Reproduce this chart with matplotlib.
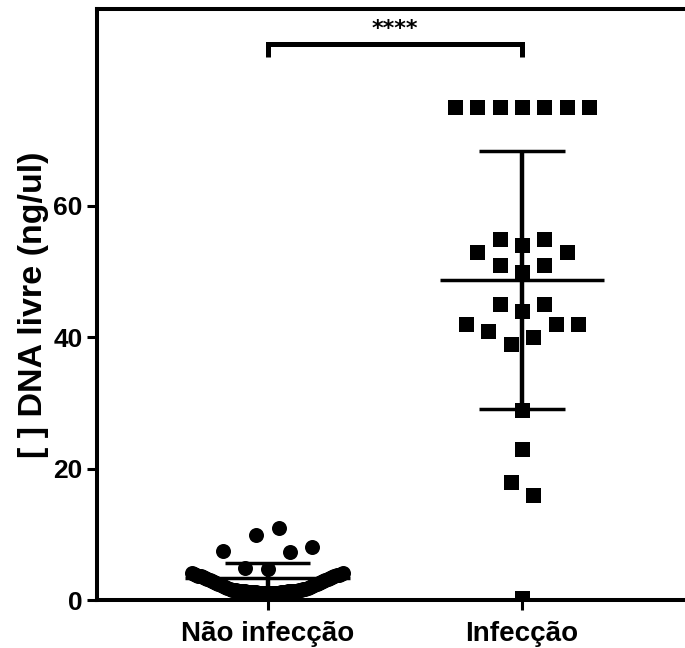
import numpy as np
import matplotlib
matplotlib.use("Agg")
import matplotlib.pyplot as plt

# ---------------- data ----------------
categories = ["Não infecção", "Infecção"]

# Não infecção group (data order)
nao_infeccao = [
    4.7, 4.9, 7.3, 7.5, 8.0,
    9.9, 11.0,
    1.05,
    1.0, 1.05, 1.05, 1.0, 1.1, 1.05, 1.1, 1.1, 1.15, 1.1,
    1.15, 1.2, 1.2, 1.2, 1.25, 1.2, 1.25, 1.3, 1.3, 1.3,
    1.35, 1.3, 1.35, 1.4, 1.4, 1.4, 1.45, 1.45, 1.5, 1.5,
    1.55, 1.6, 1.65, 1.7, 1.8, 1.85, 1.95, 2.0, 2.1, 2.15,
    2.25, 2.3, 2.4, 2.45, 2.55, 2.6, 2.7, 2.75, 2.85, 2.9,
    3.0, 3.05, 3.15, 3.2, 3.3, 3.3, 3.45, 3.45, 3.6, 3.6,
    3.7, 3.75, 3.85, 3.85, 3.95, 3.95, 4.1, 4.05,
]

# Infecção group (data order)
infeccao = [
    75, 75, 75, 75, 75, 75, 75,
    54, 55, 55, 53, 53,
    50, 51, 51,
    44, 45, 45,
    39, 40, 41, 42, 42, 42,
    29, 23, 18, 16, 0.3,
]

group_mean = [3.4, 48.7]
group_sd = [2.2, 19.6]

limit_line = 71.6
yticks = [0, 20, 40, 60]
ylabel = "[ ] DNA livre (ng/ul)"
signif = "****"

# ---------------- layout helpers ----------------
def scatter_offsets(values, origin, binw=4.5, step=0.0884, maxspan=0.596):
    v = np.asarray(values, float)
    bins = np.floor((v - origin) / binw).astype(int)
    off = np.zeros(len(v))
    for b in np.unique(bins):
        idx = np.where(bins == b)[0]
        n = len(idx)
        s = step if (n - 1) * step <= maxspan else maxspan / (n - 1)
        for k, i in enumerate(idx):
            if n % 2 == 1:
                m = (k + 1) // 2
                sign = -1 if k % 2 == 1 else 1
                pos = sign * m
            else:
                m = k // 2 + 0.5
                sign = -1 if k % 2 == 0 else 1
                pos = sign * m
            off[i] = pos * s
    return off

# ---------------- figure ----------------
fig = plt.figure(figsize=(6.85, 6.48), dpi=100)
ax = fig.add_axes([97 / 685, 48 / 648, 588 / 685, 591 / 648])

px_per_unit_x = 254.5
xl = -(267.5 - 97) / px_per_unit_x
ax.set_xlim(xl, xl + 588 / px_per_unit_x)
ax.set_ylim(0, 90)

FONT = "Liberation Sans"

# points
off0 = scatter_offsets(nao_infeccao, origin=0.0)
off1 = scatter_offsets(infeccao, origin=2.3)
ax.plot(0 + off0, nao_infeccao, "o", color="black", markersize=10.8,
        markeredgewidth=0, zorder=2)
ax.plot(1 + off1, infeccao, "s", color="black", markersize=10.8,
        markeredgewidth=0, zorder=2)

# mean +/- SD
for i, (m, sd) in enumerate(zip(group_mean, group_sd)):
    ax.plot([i, i], [m - sd, m + sd], color="black", lw=3.2,
            solid_capstyle="butt", zorder=3)
    ax.plot([i - 0.324, i + 0.324], [m, m], color="black", lw=2.5,
            solid_capstyle="butt", zorder=3)
    for e in (m - sd, m + sd):
        ax.plot([i - 0.167, i + 0.167], [e, e], color="black", lw=2.5,
                solid_capstyle="butt", zorder=3)

# dotted limit line
ax.axhline(limit_line, color="black", lw=3.0,
           linestyle=(2.3, (0, 4.05)), dash_capstyle="round", zorder=1)

# significance bracket
ax.plot([0, 0, 1, 1], [82.65, 84.67, 84.67, 82.65], color="black", lw=3.6,
        solid_joinstyle="miter", solid_capstyle="butt", clip_on=False)
ax.text(0.5, 86.9, signif, ha="center", va="center", fontsize=16,
        fontweight="bold", family="DejaVu Sans")

# axes styling
for side in ("left", "bottom", "top"):
    ax.spines[side].set_linewidth(2.9)
ax.spines["right"].set_visible(False)

ax.set_yticks(yticks)
ax.set_yticklabels([str(t) for t in yticks], fontsize=19, fontweight="bold",
                   family=FONT)
ax.set_xticks([0, 1])
ax.set_xticklabels(categories, fontsize=20, fontweight="bold", family=FONT)
ax.tick_params(axis="y", length=7.2, width=2.2, pad=3)
ax.tick_params(axis="x", length=7.2, width=2.2, pad=8)
ax.set_ylabel(ylabel, fontsize=24.5, fontweight="bold", family=FONT, labelpad=3)

fig.savefig("out.png", dpi=100)
